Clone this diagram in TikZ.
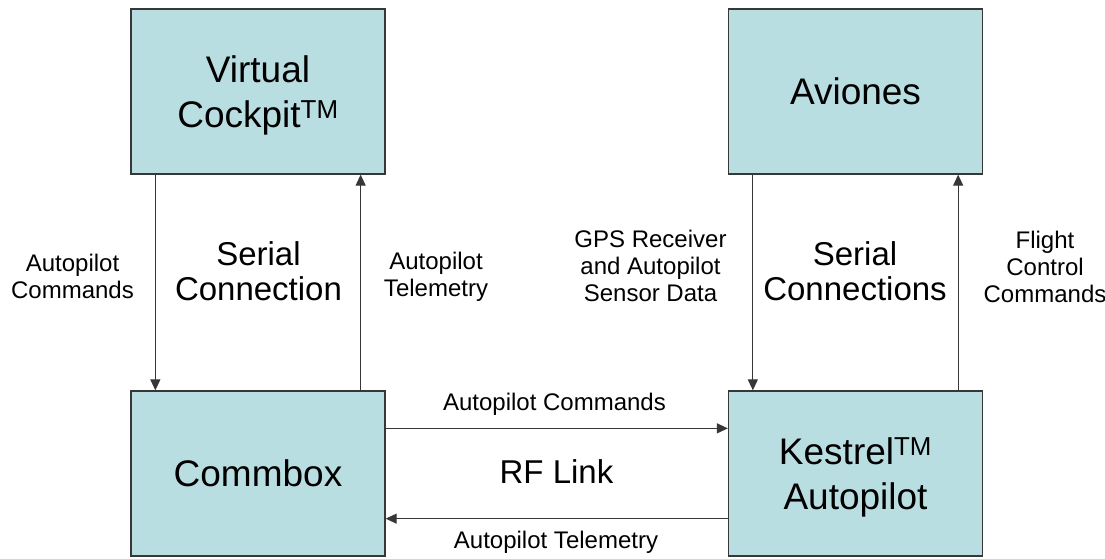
\documentclass[tikz,border=0pt]{standalone}
\usepackage{fontspec}
\setmainfont{Liberation Sans}
\usetikzlibrary{arrows.meta}
\definecolor{boxfill}{RGB}{185,222,226}
\definecolor{linecol}{RGB}{55,55,55}
\begin{document}
\begin{tikzpicture}[x=1pt,y=-1pt,
  blk/.style={draw=linecol,line width=1.3pt,fill=boxfill,minimum width=254pt,minimum height=165pt,inner sep=0pt,text depth=0pt,align=center,font=\fontsize{37}{45}\selectfont},
  conn/.style={draw=linecol,line width=1.2pt,-{Triangle[length=11pt,width=10pt]}},
  small/.style={align=center,inner sep=0pt,font=\fontsize{24}{27}\selectfont},
  mid/.style={align=center,inner sep=0pt,font=\fontsize{33}{35}\selectfont}]
\useasboundingbox (0,0) rectangle (1105,559);
\node[blk] (vc) at (258,91.5) {Virtual\\Cockpit\textsuperscript{TM}};
\node[blk] (cb) at (258,473.5) {Commbox};
\node[blk] (av) at (855.5,91.5) {Aviones};
\node[blk] (kp) at (855.5,473.5) {Kestrel\textsuperscript{TM}\\Autopilot};
% vertical connectors
\draw[conn] ([xshift=25pt]vc.south west) -- ([xshift=25pt]cb.north west);
\draw[conn] ([xshift=-25pt]cb.north east) -- ([xshift=-25pt]vc.south east);
\draw[conn] ([xshift=25pt]av.south west) -- ([xshift=25pt]kp.north west);
\draw[conn] ([xshift=-25pt]kp.north east) -- ([xshift=-25pt]av.south east);
% horizontal connectors (yshift is in canvas units: negative = downward)
\draw[conn] ([yshift=-38pt]cb.north east) -- ([yshift=-38pt]kp.north west);
\draw[conn] ([yshift=38pt]kp.south west) -- ([yshift=38pt]cb.south east);
% labels
\node[small] (l1) at (72.5,276) {Autopilot\\Commands};
\node[mid] (l2) at (258.5,271) {Serial\\Connection};
\node[small] (l3) at (436,276.5) {Autopilot\\Telemetry};
\node[small] (l4) at (650.5,266) {GPS Receiver\\and Autopilot\\Sensor Data};
\node[mid] (l5) at (855,271) {Serial\\Connections};
\node[small] (l6) at (1045,267) {Flight\\Control\\Commands};
\node[small,anchor=base] (l7) at (554.5,410) {Autopilot Commands};
\node[mid,anchor=base] (l8) at (556.5,483) {RF Link};
\node[small,anchor=base] (l9) at (556,548) {Autopilot Telemetry};
\end{tikzpicture}
\end{document}
